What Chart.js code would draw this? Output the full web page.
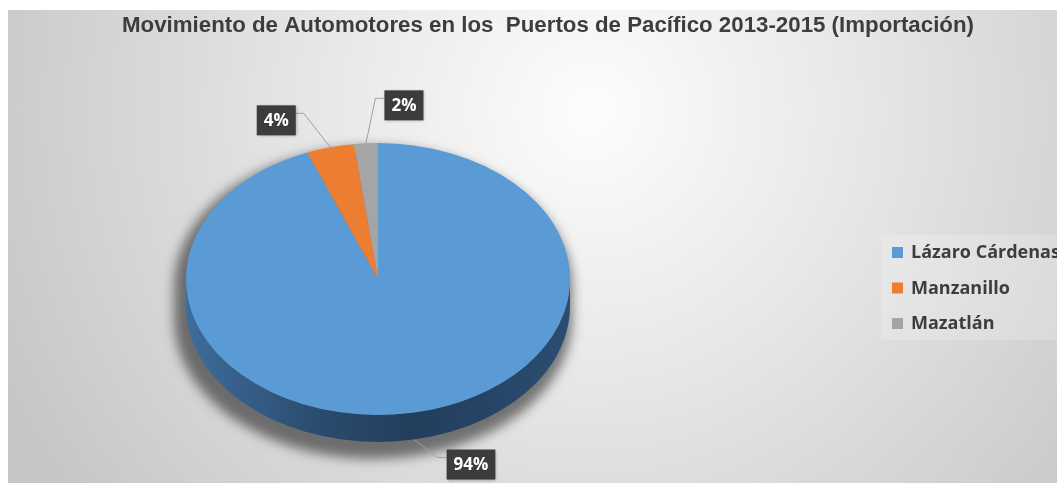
<!DOCTYPE html>
<html>
<head>
<meta charset="utf-8">
<script src="https://cdn.jsdelivr.net/npm/chart.js@4.4.1/dist/chart.umd.min.js"></script>
<style>
  html, body { margin: 0; padding: 0; background: #ffffff; overflow: hidden; }
  canvas { display: block; }
</style>
</head>
<body>
<canvas id="c" width="1057" height="483"></canvas>
<script>
// Chart content
const chartTitle = 'Movimiento de Automotores en los  Puertos de Pacífico 2013-2015 (Importación)';
const ports = ['Lázaro Cárdenas', 'Manzanillo', 'Mazatlán'];
const shares = [94, 4, 2];
const shareLabels = ['94%', '4%', '2%'];
const sliceColors = ['#5B9BD5', '#ED7D31', '#A5A5A5'];

// 3D look of the pie
const TILT = 0.708;   // vertical squash of the top face
const DEPTH = 27;     // wall thickness in px

// Placement of the value call-outs relative to each slice's rim point
const calloutLayout = [
  { dx: 57,  dy: 25,  side: 'left'  },
  { dx: -54, dy: -27, side: 'right' },
  { dx: 38,  dy: -38, side: 'left'  }
];

const labelFont = 'bold 17px "Open Sans", "DejaVu Sans", sans-serif';

// closed outline of the visible cylinder (upper half of top + front wall)
function cylinderPath(ctx, cx, cy, rx, ry, depth) {
  ctx.beginPath();
  ctx.ellipse(cx, cy, rx, ry, 0, Math.PI, 0);
  ctx.lineTo(cx + rx, cy + depth);
  ctx.ellipse(cx, cy + depth, rx, ry, 0, 0, Math.PI);
  ctx.closePath();
}

const pie3d = {
  id: 'pie3d',
  beforeDraw(chart) {
    const ctx = chart.ctx;
    const W = chart.width, H = chart.height;
    ctx.save();
    ctx.fillStyle = '#ffffff';
    ctx.fillRect(0, 0, W, H);
    // soft light-to-grey backdrop
    const g = ctx.createRadialGradient(590, 110, 0, 590, 110, 650);
    g.addColorStop(0, '#fdfdfd');
    g.addColorStop(0.4, '#e8e8e8');
    g.addColorStop(1, '#c6c6c6');
    ctx.fillStyle = g;
    ctx.fillRect(8, 10, W - 8, H - 10);

    // title, condensed to its box width
    ctx.fillStyle = '#3d3d3d';
    ctx.font = 'bold 22px "Liberation Sans Narrow", "Liberation Sans", Arial, sans-serif';
    ctx.textBaseline = 'alphabetic';
    ctx.textAlign = 'left';
    const tw = ctx.measureText(chartTitle).width;
    const target = 852;
    ctx.translate(548 - target / 2, 32);
    ctx.scale(target / tw, 1);
    ctx.fillText(chartTitle, 0, 0);
    ctx.restore();

    // legend
    ctx.save();
    ctx.fillStyle = 'rgba(255,255,255,0.2)';
    ctx.fillRect(881, 235, W - 881, 105);
    ctx.font = 'bold 18px "Open Sans", "DejaVu Sans", sans-serif';
    ctx.textBaseline = 'middle';
    ports.forEach((name, i) => {
      const y = 252 + i * 35.5;
      ctx.fillStyle = sliceColors[i];
      ctx.fillRect(892, y - 5, 11, 11);
      ctx.fillStyle = '#3d3d3d';
      ctx.fillText(name, 911, y + 1);
    });
    ctx.restore();
  },
  beforeDatasetsDraw(chart) {
    const ctx = chart.ctx;
    const arc = chart.getDatasetMeta(0).data[0];
    const cx = arc.x, cy = arc.y, R = arc.outerRadius, ry = R * TILT;

    // soft shadow only (shape drawn off-canvas, shadow shifted back)
    ctx.save();
    const off = 5000;
    ctx.shadowColor = 'rgba(0,0,0,0.5)';
    ctx.shadowBlur = 12;
    ctx.shadowOffsetX = off - 5;
    ctx.shadowOffsetY = 8;
    ctx.fillStyle = '#000';
    cylinderPath(ctx, cx - off, cy, R + 7, ry + 4, DEPTH + 5);
    ctx.fill();
    ctx.restore();

    // front wall of the blue slice
    ctx.save();
    const sg = ctx.createLinearGradient(cx - R, 0, cx + R, 0);
    sg.addColorStop(0, '#3d6d9c');
    sg.addColorStop(0.35, '#2a4b6e');
    sg.addColorStop(0.6, '#223e5c');
    sg.addColorStop(1, '#2b4d72');
    ctx.fillStyle = sg;
    ctx.beginPath();
    ctx.ellipse(cx, cy, R, ry, 0, 0, Math.PI);
    ctx.lineTo(cx - R, cy + DEPTH);
    ctx.ellipse(cx, cy + DEPTH, R, ry, 0, Math.PI, 0, true);
    ctx.closePath();
    ctx.fill();
    ctx.restore();

    // squash the top face
    ctx.save();
    ctx.translate(0, cy);
    ctx.scale(1, TILT);
    ctx.translate(0, -cy);
  },
  afterDatasetsDraw(chart) {
    const ctx = chart.ctx;
    ctx.restore();
    const meta = chart.getDatasetMeta(0);
    meta.data.forEach((el, i) => {
      const cx = el.x, cy = el.y, R = el.outerRadius, ry = R * TILT;
      const a = (el.startAngle + el.endAngle) / 2;
      const px = cx + R * Math.cos(a);
      let py = cy + ry * Math.sin(a);
      if (Math.sin(a) > 0.2) py += DEPTH;
      const lay = calloutLayout[i];
      ctx.save();
      ctx.font = labelFont;
      const text = shareLabels[i];
      const tw = ctx.measureText(text).width;
      const bw = tw + 14, bh = 30;
      const bcx = px + lay.dx, bcy = py + lay.dy;
      const bx = bcx - bw / 2, by = bcy - bh / 2;
      const edgeX = lay.side === 'left' ? bx : bx + bw;
      const lineY = bcy - 7;
      const elbowX = lay.side === 'left' ? edgeX - 9 : edgeX + 8;
      // leader line
      ctx.strokeStyle = '#a0a0a0';
      ctx.lineWidth = 1;
      ctx.beginPath();
      ctx.moveTo(px, py);
      ctx.lineTo(elbowX, lineY);
      ctx.lineTo(edgeX, lineY);
      ctx.stroke();
      // box
      ctx.shadowColor = 'rgba(0,0,0,0.3)';
      ctx.shadowBlur = 3;
      ctx.shadowOffsetX = 1;
      ctx.shadowOffsetY = 1;
      ctx.fillStyle = '#3c3c3c';
      ctx.fillRect(bx, by, bw, bh);
      ctx.shadowColor = 'transparent';
      ctx.fillStyle = '#ffffff';
      ctx.textAlign = 'center';
      ctx.textBaseline = 'middle';
      ctx.fillText(text, bcx, bcy + 1);
      ctx.restore();
    });
  }
};

new Chart(document.getElementById('c'), {
  type: 'pie',
  data: {
    labels: ports,
    datasets: [{
      data: shares,
      backgroundColor: sliceColors,
      borderWidth: 0,
      clip: false
    }]
  },
  options: {
    responsive: false,
    animation: false,
    events: [],
    devicePixelRatio: 1,
    layout: { padding: { left: 186, right: 487, top: 87, bottom: 12 } },
    plugins: {
      legend: { display: false },
      title: { display: false },
      tooltip: { enabled: false }
    }
  },
  plugins: [pie3d]
});
</script>
</body>
</html>
